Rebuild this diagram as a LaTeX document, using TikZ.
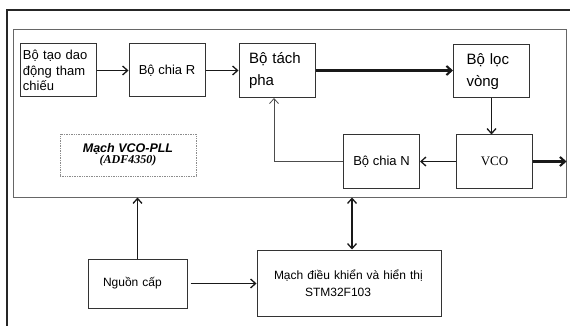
\documentclass[tikz,border=0pt]{standalone}
\usepackage{fontspec}
\setmainfont{Liberation Sans}
\newfontfamily\timesfont{Liberation Serif}
\usetikzlibrary{positioning,arrows.meta}

\begin{document}
\begin{tikzpicture}[x=1pt, y=-1pt,
        block/.style={rectangle, draw=black!80, line width=1pt, minimum width=76pt, minimum height=53pt, inner sep=0pt, font=\fontsize{13}{15.5}\selectfont},
        bigblock/.style={block, font=\fontsize{15}{22}\selectfont},
        pllbox/.style={rectangle, draw=black!60, line width=1pt, minimum width=553pt, minimum height=167pt},
        namebox/.style={rectangle, draw=black!45, densely dotted, line width=0.7pt, minimum width=136pt, minimum height=42pt, align=center},
        arrow/.style={-{Straight Barb[length=5pt, width=9pt]}, line width=1.3pt, black!90},
        thickarrow/.style={arrow, line width=2.1pt},
        fbline/.style={-{Straight Barb[length=5pt, width=9pt]}, line width=0.8pt, black!70},
        frame/.style={line width=1.8pt, black!85},
      ]
      \useasboundingbox (0,0) rectangle (570,326);
      % outer frame, cut at the right and bottom
      \draw [frame] (570,10) -- (7,10) -- (7,326);
      \node [pllbox] (pll) at (289.5,113.5) {};
      \node [namebox] (name) at (128,155) {{\fontsize{12.5}{16}\selectfont\bfseries\itshape Mạch VCO-PLL}\\[-1pt]{\timesfont\fontsize{12}{14}\selectfont\bfseries\itshape (ADF4350)}};
      \node [block, text width=70pt, align=left] (osc) at (58,70.5) {Bộ tạo dao\\động tham\\chiếu};
      \node [block, right=32pt of osc] (chiaR) {Bộ chia R};
      \node [bigblock, minimum height=54pt, text width=56pt, align=left, right=33pt of chiaR] (tach) {Bộ tách\\pha};
      \node [bigblock, text width=50pt, align=left] (loc) at (491.5,71.5) {Bộ lọc\\vòng};
      \node [block, below=36pt of loc, xshift=3pt, font=\timesfont\fontsize{13}{15}\selectfont] (vco) {VCO};
      \node [block, left=36pt of vco] (chiaN) {Bộ chia N};
      \node [block, minimum width=99pt, minimum height=49pt, text width=69pt, align=left, font=\fontsize{12}{15}\selectfont] (nguon) at (137.5,283.5) {Nguồn cấp};
      \node [block, minimum width=184pt, minimum height=66pt, text width=150pt, align=left, font=\fontsize{12}{17}\selectfont] (mach) at (349,283) {Mạch điều khiển và hiển thị\\\hspace*{31pt}STM32F103};
      \draw [arrow] (osc) -- (chiaR);
      \draw [arrow] (chiaR) -- (tach);
      \draw [thickarrow] (tach.east) -- (tach.east -| loc.west);
      \draw [arrow] (loc) -- (loc |- vco.north);
      \draw [arrow] (vco) -- (chiaN);
      \draw [fbline] (chiaN.west) -| ([xshift=-3pt]tach.south);
      \draw [thickarrow] (vco.east) -- (vco.east -| pll.east);
      % supply and control
      \draw [arrow] (nguon) -- (nguon |- pll.south);
      \draw [arrow] ([xshift=3pt]nguon.east) -- (nguon.east -| mach.west);
      \draw [arrow, {Straight Barb[length=5pt, width=9pt]}-{Straight Barb[length=5pt, width=9pt]}] ([xshift=3pt]mach.north) -- ([xshift=3pt]mach.north |- pll.south);
    \end{tikzpicture}
\end{document}
